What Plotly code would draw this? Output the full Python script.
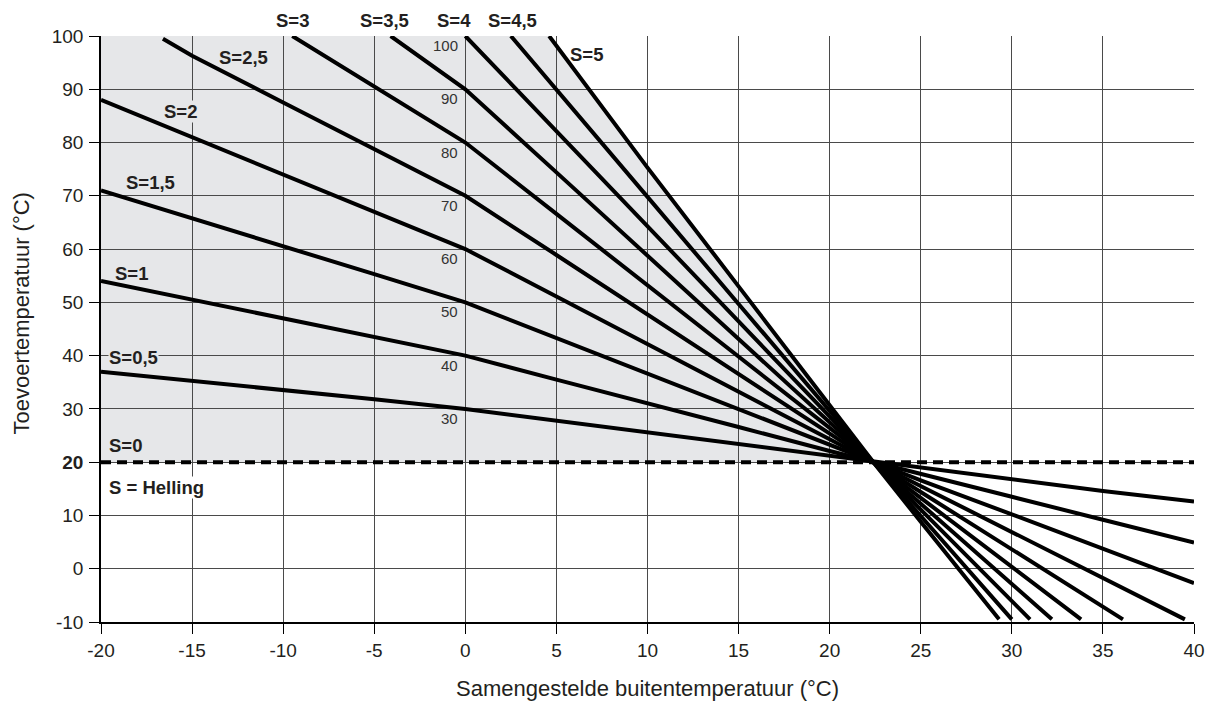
import plotly.graph_objects as go

# ---------------- data ----------------
x_ticks = [-20, -15, -10, -5, 0, 5, 10, 15, 20, 25, 30, 35, 40]
y_ticks = [-10, 0, 10, 20, 30, 40, 50, 60, 70, 80, 90, 100]
y_ticktext = ["-10", "0", "10", "<b>20</b>", "30", "40", "50", "60", "70", "80", "90", "100"]

s00_x = [-20, 40]
s00_y = [20, 20]

s05_x = [-20, -15, -10, -5, 0, 5, 10, 15, 20, 22.4, 25, 30, 35, 40]
s05_y = [37, 35.3, 33.5, 31.8, 30, 27.8, 25.5, 23.3, 21.1, 20, 18.9, 16.7, 14.6, 12.6]

s10_x = [-20, -15, -10, -5, 0, 5, 10, 15, 20, 22.4, 25, 30, 35, 40]
s10_y = [54, 50.5, 47, 43.5, 40, 35.5, 31.1, 26.6, 22.1, 20, 17.8, 13.5, 9.2, 4.9]

s15_x = [-20, -15, -10, -5, 0, 5, 10, 15, 20, 22.4, 25, 30, 35, 40]
s15_y = [71, 65.8, 60.5, 55.3, 50, 43.3, 36.6, 29.9, 23.2, 20, 16.6, 10.2, 3.7, -2.7]

s20_x = [-20, -15, -10, -5, 0, 5, 10, 15, 20, 22.4, 25, 30, 35, 39.5]
s20_y = [88, 81, 74, 67, 60, 51.1, 42.1, 33.2, 24.3, 20, 15.5, 6.9, -1.7, -9.5]

s25_x = [-16.6, -15, -10, -5, 0, 5, 10, 15, 20, 22.4, 25, 30, 35, 36.1]
s25_y = [99.5, 96.3, 87.5, 78.8, 70, 58.9, 47.7, 36.5, 25.4, 20, 14.4, 3.6, -7.1, -9.5]

s30_x = [-9.5, -5, 0, 5, 10, 15, 20, 22.4, 25, 30, 33.8]
s30_y = [100, 90.5, 80, 66.6, 53.2, 39.8, 26.4, 20, 13.3, 0.4, -9.5]

s35_x = [-4.1, 0, 5, 10, 15, 20, 22.4, 25, 30, 32.2]
s35_y = [100, 90, 74.4, 58.7, 43.1, 27.5, 20, 12.2, -2.9, -9.5]

s40_x = [0, 5, 10, 15, 20, 22.4, 25, 30, 31.0]
s40_y = [100, 82.2, 64.3, 46.4, 28.6, 20, 11.1, -6.2, -9.5]

s45_x = [2.5, 5, 10, 15, 20, 22.4, 25, 30.0]
s45_y = [100, 90, 69.8, 49.7, 29.6, 20, 9.9, -9.5]

s50_x = [4.6, 10, 15, 20, 22.4, 25, 29.3]
s50_y = [100, 75.3, 53, 30.7, 20, 8.8, -9.5]

curve_xs = [s05_x, s10_x, s15_x, s20_x, s25_x, s30_x, s35_x, s40_x, s45_x, s50_x]
curve_ys = [s05_y, s10_y, s15_y, s20_y, s25_y, s30_y, s35_y, s40_y, s45_y, s50_y]
curve_names = ["S=0,5", "S=1", "S=1,5", "S=2", "S=2,5", "S=3", "S=3,5", "S=4", "S=4,5", "S=5"]

# curve labels inside the plot: text, x, y (left anchored)
label_text = ["S=0", "S=0,5", "S=1", "S=1,5", "S=2", "S=2,5", "S=5"]
label_x = [-19.6, -19.6, -19.3, -18.7, -16.6, -13.6, 5.7]
label_y = [23.1, 39.6, 55.5, 72.5, 85.9, 95.9, 96.6]
label_bg = [False, True, False, False, True, False, False]

# curve labels above the plot (centered)
top_text = ["S=3", "S=3,5", "S=4", "S=4,5"]
top_x = [-9.5, -4.45, -0.64, 2.6]
top_y = 102.9

helling_text = "S = Helling"
helling_x = -19.6
helling_y = 15.3

# small values at x = 0
value_text = ["30", "40", "50", "60", "70", "80", "90", "100"]
value_y = [28.2, 38.2, 48.2, 58.2, 68.2, 78.2, 88.2, 98.2]
value_x = -0.3

x_title = "Samengestelde buitentemperatuur (°C)"
y_title = "Toevoertemperatuur (°C)"

fill_color = "#e6e7e9"
grid_color = "#4a4a4a"
text_color = "#231f20"

y_min, y_max = y_ticks[0], y_ticks[-1]


def paper_y(v):
    return (v - y_min) / (y_max - y_min)


fig = go.Figure()

# shaded area, built from the axis range, the S=0 line and the S=5 curve
poly_x = [x_ticks[0], x_ticks[0]] + [x for x, y in zip(s50_x, s50_y) if y >= 20]
poly_y = [s00_y[0], y_max] + [y for y in s50_y if y >= 20]
path = "M " + " L ".join(f"{x},{y}" for x, y in zip(poly_x, poly_y)) + " Z"
fig.add_shape(type="path", path=path, xref="x", yref="y",
              fillcolor=fill_color, line=dict(width=0), layer="below")

for xs, ys, nm in zip(curve_xs, curve_ys, curve_names):
    fig.add_trace(go.Scatter(x=xs, y=ys, mode="lines", name=nm,
                             line=dict(color="black", width=4), hoverinfo="skip"))

fig.add_trace(go.Scatter(x=s00_x, y=s00_y, mode="lines", name="S=0",
                         line=dict(color="black", width=4, dash="10px,6px"),
                         hoverinfo="skip"))

label_font = dict(family="Liberation Sans, Arial", size=18.5, color=text_color)
for t, x, y, bg in zip(label_text, label_x, label_y, label_bg):
    fig.add_annotation(x=x, y=y, xref="x", yref="y", text=f"<b>{t}</b>",
                       showarrow=False, xanchor="left", yanchor="middle",
                       font=label_font,
                       bgcolor=fill_color if bg else "rgba(0,0,0,0)",
                       borderpad=0)

for t, x in zip(top_text, top_x):
    fig.add_annotation(x=x, y=paper_y(top_y), xref="x", yref="paper",
                       text=f"<b>{t}</b>", showarrow=False,
                       xanchor="center", yanchor="middle", font=label_font)

fig.add_annotation(x=helling_x, y=helling_y, xref="x", yref="y",
                   text=f"<b>{helling_text}</b>", showarrow=False,
                   xanchor="left", yanchor="middle", font=label_font,
                   bgcolor="white", borderpad=0)

for t, y in zip(value_text, value_y):
    fig.add_annotation(x=value_x, y=y, xref="x", yref="y", text=t,
                       showarrow=False, xanchor="right", yanchor="middle",
                       font=dict(family="Liberation Sans, Arial", size=15, color="#333333"))

title_font = dict(family="Liberation Sans, Arial", size=22, color=text_color)
# axis titles
fig.add_annotation(x=0.5, y=-0.1143, xref="paper", yref="paper", text=x_title,
                   showarrow=False, xanchor="center", yanchor="middle", font=title_font)
fig.add_annotation(x=-0.073, y=0.527, xref="paper", yref="paper", text=y_title,
                   showarrow=False, xanchor="center", yanchor="middle",
                   textangle=-90, font=title_font)

tick_font = dict(family="Liberation Sans, Arial", size=19, color=text_color)
fig.update_layout(
    width=1217, height=711,
    margin=dict(l=101, r=20, t=36, b=89),
    paper_bgcolor="white", plot_bgcolor="white",
    showlegend=False,
    xaxis=dict(range=[x_ticks[0], x_ticks[-1]], tickvals=x_ticks,
               ticktext=[str(v) for v in x_ticks],
               showgrid=True, gridcolor=grid_color, gridwidth=1,
               zeroline=False, showline=True, linecolor="black", linewidth=1.5,
               ticks="outside", ticklen=10, tickcolor="black",
               tickfont=tick_font, ticklabelstandoff=0),
    yaxis=dict(range=[y_min, y_max], tickvals=y_ticks, ticktext=y_ticktext,
               showgrid=True, gridcolor=grid_color, gridwidth=1,
               zeroline=False, showline=True, linecolor="black", linewidth=1.5,
               ticks="outside", ticklen=10, tickcolor="black",
               tickfont=tick_font, ticklabelstandoff=2),
)

fig.write_html("out.html", config={"displayModeBar": False},
               post_script="document.body.style.margin='0';")
